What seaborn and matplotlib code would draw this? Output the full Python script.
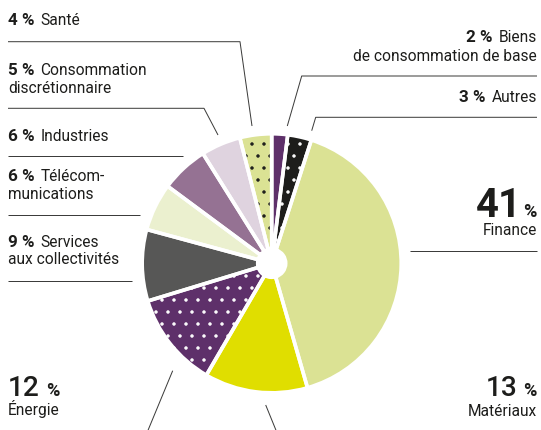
import matplotlib
matplotlib.use("Agg")
import matplotlib.pyplot as plt
import seaborn as sns

# ---- data ----
sectors = ["Biens de consommation de base", "Autres", "Finance", "Matériaux", "Énergie",
           "Services aux collectivités", "Télécommunications", "Industries",
           "Consommation discrétionnaire", "Santé"]
shares = [2, 3, 41, 13, 12, 9, 6, 6, 5, 4]
colors = ["#5e306a", "#1d1d1b", "#dbe294", "#e0de00", "#5e306a",
          "#575756", "#ebf0cf", "#957293", "#dfd3df", "#dbe294"]
hatches = ["", ".", "", "", ".", "", "", "", "", "."]
hatch_colors = ["#5e306a", "white", "#dbe294", "#e0de00", "white",
                "#575756", "#ebf0cf", "#957293", "#dfd3df", "#1d1d1b"]

sns.set_theme(style="white")
plt.rcParams["font.family"] = ["Roboto", "DejaVu Sans"]
plt.rcParams["hatch.linewidth"] = 1.0

W, H, DPI = 541, 430, 72
fig = plt.figure(figsize=(W / DPI, H / DPI), dpi=DPI)
ax = fig.add_axes([0, 0, 1, 1])

def Y(ypx):
    return H - ypx

cx, cy = 271.7, Y(263.3)
R, r_in = 129.5, 14.0

wedges, _ = ax.pie(shares, startangle=90, counterclock=False, radius=R, center=(cx, cy),
                   colors=colors, hatch=hatches,
                   wedgeprops=dict(width=R - r_in, linewidth=0), frame=True)
for w, hc in zip(wedges, hatch_colors):
    w.set_edgecolor(hc)
    w.set_linewidth(0)
# white separators
ax.pie(shares, startangle=90, counterclock=False, radius=R, center=(cx, cy),
       colors=["none"] * len(shares),
       wedgeprops=dict(width=R - r_in, linewidth=3.6, edgecolor="white", fill=False), frame=True)
ax.set_xlim(0, W)
ax.set_ylim(0, H)
ax.set_aspect("equal")
ax.axis("off")

TXT = "#1d1d1b"
LINE = "#3c3c3b"
FS = 15.5
FSB = 17

fig.canvas.draw()
renderer = fig.canvas.get_renderer()

def to_x(px):
    return ax.transData.inverted().transform((px, 0))[0]

def line(pts):
    xs = [p[0] for p in pts]
    ys = [Y(p[1]) for p in pts]
    ax.plot(xs, ys, color=LINE, lw=1.0, solid_capstyle="butt", clip_on=False)

def left_label(num, name, base, second=None, gap=6.0):
    t = ax.text(8, Y(base), num, fontsize=FSB, fontweight="bold", color=TXT, va="baseline", ha="left")
    bb = t.get_window_extent(renderer)
    ax.text(to_x(bb.x1) + gap, Y(base), name, fontsize=FS, color=TXT, va="baseline", ha="left")
    if second:
        ax.text(8, Y(second[1]), second[0], fontsize=FS, color=TXT, va="baseline", ha="left")

def right_label(num, name, base, second=None, gap=6.0, xr=537):
    t = ax.text(xr, Y(base), name, fontsize=FS, color=TXT, va="baseline", ha="right")
    bb = t.get_window_extent(renderer)
    ax.text(to_x(bb.x0) - gap, Y(base), num, fontsize=FSB, fontweight="bold", color=TXT,
            va="baseline", ha="right")
    if second:
        ax.text(xr, Y(second[1]), second[0], fontsize=FS, color=TXT, va="baseline", ha="right")

# left side
left_label(f"{shares[9]} %", "Santé", 25)
line([(8, 41.7), (240, 41.7), (252, 126)])
left_label(f"{shares[8]} %", "Consommation", 75, ("discrétionnaire", 92.7))
line([(8, 108.3), (204, 108.3), (218, 135)])
left_label(f"{shares[7]} %", "Industries", 141)
line([(8, 155.7), (183, 155.7)])
left_label(f"{shares[6]} %", "Télécom-", 181, ("munications", 199.3))
line([(8, 215), (140, 215)])
left_label(f"{shares[5]} %", "Services", 246.7, ("aux collectivités", 264.3))
line([(8, 280.7), (131.7, 280.7)])

# right side
right_label(f"{shares[0]} %", "Biens", 41.7, ("de consommation de base", 61))
line([(537, 76), (301.7, 76), (287.3, 126)])
right_label(f"{shares[1]} %", "Autres", 101.7)
line([(537, 117.3), (315.7, 117.3), (311.7, 130.7)])

# big labels
tp = ax.text(537, Y(216.7), "%", fontsize=18, fontweight="bold", color=TXT, va="baseline", ha="right")
bb = tp.get_window_extent(renderer)
ax.text(to_x(bb.x0) - 2, Y(216.7), f"{shares[2]}", fontsize=40, fontweight="bold", color=TXT,
        va="baseline", ha="right")
ax.text(537, Y(235), "Finance", fontsize=FS, color=TXT, va="baseline", ha="right")
line([(410, 250.7), (537, 250.7)])

t12 = ax.text(8, Y(396), f"{shares[4]}", fontsize=28, fontweight="medium", color=TXT,
              va="baseline", ha="left")
bb = t12.get_window_extent(renderer)
ax.text(to_x(bb.x1) + 6, Y(396), "%", fontsize=18, fontweight="bold", color=TXT, va="baseline", ha="left")
ax.text(8, Y(415.5), "Énergie", fontsize=FS, color=TXT, va="baseline", ha="left")
line([(172.7, 370.7), (147.3, 432)])

tp = ax.text(537, Y(396), "%", fontsize=18, fontweight="bold", color=TXT, va="baseline", ha="right")
bb = tp.get_window_extent(renderer)
ax.text(to_x(bb.x0) - 6, Y(396), f"{shares[3]}", fontsize=28, fontweight="medium", color=TXT,
        va="baseline", ha="right")
ax.text(537, Y(415.5), "Matériaux", fontsize=FS, color=TXT, va="baseline", ha="right")
line([(265.7, 405), (276.7, 432)])

fig.savefig("out.png", dpi=DPI, facecolor="white")
